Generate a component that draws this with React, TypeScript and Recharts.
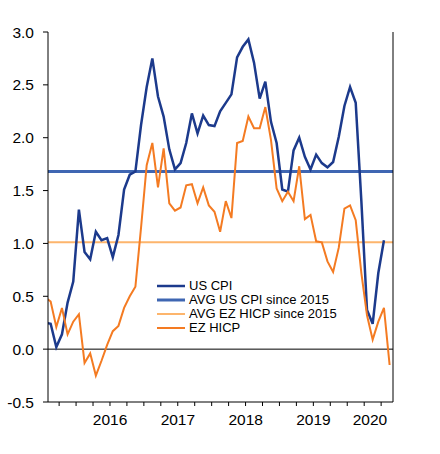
import { LineChart, Line, XAxis, YAxis, ReferenceLine, Legend } from 'recharts';

// monthly, Jul 2015 .. Jul 2020
const usCpi = [
  0.25, 0.24, 0.02, 0.14, 0.44, 0.64,
  1.32, 0.92, 0.85, 1.11, 1.03, 1.05, 0.87, 1.08, 1.51, 1.65, 1.68, 2.12,
  2.48, 2.75, 2.39, 2.2, 1.89, 1.7, 1.76, 1.95, 2.23, 2.04, 2.21, 2.12,
  2.11, 2.25, 2.33, 2.41, 2.76, 2.86, 2.93, 2.71, 2.37, 2.53, 2.15, 1.95,
  1.51, 1.49, 1.88, 2.0, 1.82, 1.7, 1.84, 1.76, 1.72, 1.77, 2.01, 2.3,
  2.48, 2.33, 1.4, 0.37, 0.24, 0.72, 1.03,
];

// monthly, Jul 2015 .. Aug 2020
const ezHicp = [
  0.49, 0.45, 0.21, 0.39, 0.14, 0.26,
  0.33, -0.13, -0.04, -0.25, -0.11, 0.04, 0.17, 0.22, 0.39, 0.5, 0.59, 1.15,
  1.74, 1.95, 1.53, 1.9, 1.38, 1.31, 1.34, 1.55, 1.56, 1.38, 1.53, 1.36,
  1.3, 1.11, 1.4, 1.24, 1.95, 1.97, 2.2, 2.09, 2.09, 2.29, 1.98, 1.52,
  1.4, 1.49, 1.4, 1.73, 1.23, 1.27, 1.02, 1.01, 0.83, 0.73, 0.96, 1.33,
  1.36, 1.22, 0.72, 0.32, 0.09, 0.26, 0.39, -0.15,
];

const avgUsCpi = 1.68;
const avgEzHicp = 1.01;

const yTicks = [-0.5, 0, 0.5, 1, 1.5, 2, 2.5, 3];
const quarterTicks = [
  2.5, 5.5, 8.5, 11.5, 14.5, 17.5, 20.5, 23.5, 26.5, 29.5,
  32.5, 35.5, 38.5, 41.5, 44.5, 47.5, 50.5, 53.5, 56.5, 59.5,
];
const yearLabels = ['2016', '2017', '2018', '2019', '2020'];
const yearLabelPos = [11.52, 23.52, 35.52, 47.52, 57.52];

const data = ezHicp.map((v, i) => ({
  t: i,
  us: i < usCpi.length ? usCpi[i] : null,
  ez: v,
}));

const FONT = '"Liberation Sans", Arial, sans-serif';
const NAVY = '#1c3a8c';
const BLUE = '#3f66b2';
const LIGHT_ORANGE = '#fdb56c';
const ORANGE = '#f47b22';

function XTick(props: any) {
  const { x, y, payload } = props;
  const idx = yearLabelPos.indexOf(payload.value);
  if (idx >= 0) {
    return (
      <text x={x} y={y + 23} textAnchor="middle" fontSize={15.5} fontFamily={FONT} fill="#000">
        {yearLabels[idx]}
      </text>
    );
  }
  return <line x1={x} x2={x} y1={y} y2={y + 4} stroke="#000" strokeWidth={1} />;
}

const legendItems = [
  { name: 'US CPI', color: NAVY, width: 2.5 },
  { name: 'AVG US CPI since 2015', color: BLUE, width: 3 },
  { name: 'AVG EZ HICP since 2015', color: LIGHT_ORANGE, width: 2 },
  { name: 'EZ HICP', color: ORANGE, width: 2 },
];

function LegendBox() {
  return (
    <div style={{ fontFamily: FONT, fontSize: 13, color: '#000', lineHeight: '14px' }}>
      {legendItems.map(it => (
        <div key={it.name} style={{ display: 'flex', alignItems: 'center', height: 14, whiteSpace: 'nowrap' }}>
          <svg width={32} height={8}>
            <line x1={0} x2={28} y1={4} y2={4} stroke={it.color} strokeWidth={it.width} />
          </svg>
          <span>{it.name}</span>
        </div>
      ))}
    </div>
  );
}

export default function App() {
  return (
    <div style={{ position: 'relative', width: 440, height: 454 }}>
      <style>{'body{margin:0;}'}</style>
      <LineChart width={440} height={454} data={data} margin={{ top: 32, right: 0, left: 0, bottom: 0 }}>
        <XAxis
          dataKey="t"
          type="number"
          domain={[0.53, 61.6]}
          allowDataOverflow
          ticks={[...quarterTicks, ...yearLabelPos]}
          interval={0}
          tickSize={0}
          tickMargin={0}
          tickLine={false}
          tick={<XTick />}
          height={52}
          axisLine={{ stroke: '#000', strokeWidth: 1 }}
        />
        <YAxis
          yAxisId="left"
          domain={[-0.5, 3]}
          ticks={yTicks}
          tickFormatter={(v: number) => v.toFixed(1)}
          width={48}
          tickSize={5}
          tickMargin={9}
          axisLine={{ stroke: '#000', strokeWidth: 1 }}
          tickLine={{ stroke: '#000', strokeWidth: 1 }}
          tick={{ fill: '#000', fontSize: 15.5, fontFamily: FONT }}
        />
        <YAxis
          yAxisId="right"
          orientation="right"
          domain={[-0.5, 3]}
          ticks={yTicks}
          tickFormatter={(v: number) => v.toFixed(1)}
          width={47}
          tickSize={5}
          tickMargin={7}
          axisLine={{ stroke: '#000', strokeWidth: 1 }}
          tickLine={{ stroke: '#000', strokeWidth: 1 }}
          tick={{ fill: '#000', fontSize: 15.5, fontFamily: FONT }}
        />
        <ReferenceLine yAxisId="left" y={0} stroke="#000" strokeWidth={1} />
        <ReferenceLine yAxisId="left" y={avgUsCpi} stroke={BLUE} strokeWidth={3} />
        <ReferenceLine yAxisId="left" y={avgEzHicp} stroke={LIGHT_ORANGE} strokeWidth={2} />
        <Line
          yAxisId="left"
          dataKey="us"
          stroke={NAVY}
          strokeWidth={2.5}
          dot={false}
          isAnimationActive={false}
        />
        <Line
          yAxisId="left"
          dataKey="ez"
          stroke={ORANGE}
          strokeWidth={2}
          dot={false}
          isAnimationActive={false}
        />
        <Legend
          layout="vertical"
          align="center"
          verticalAlign="middle"
          content={() => <LegendBox />}
          wrapperStyle={{ left: 157, top: 279, width: 220 }}
        />
      </LineChart>
    </div>
  );
}
